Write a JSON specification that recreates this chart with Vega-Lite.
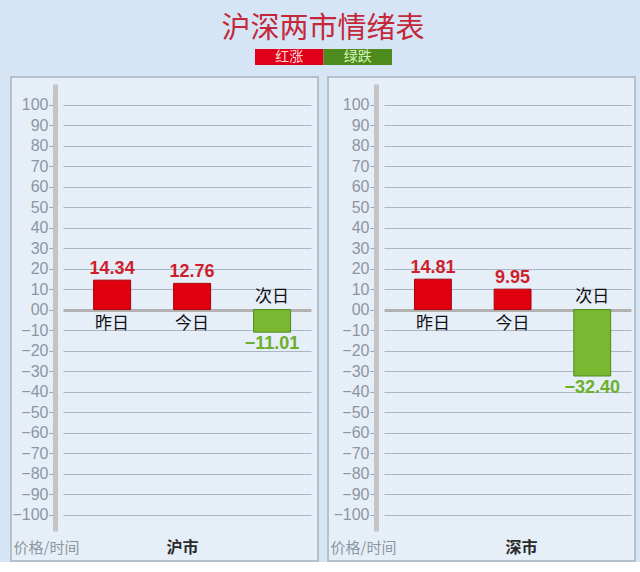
{
  "$schema": "https://vega.github.io/schema/vega-lite/v6.json",
  "background": "#d5e5f5",
  "padding": {"left": 10, "top": 15, "right": 8, "bottom": 0},
  "title": {
    "text": "沪深两市情绪表",
    "font": "Noto Sans CJK SC",
    "fontSize": 29,
    "fontWeight": "normal",
    "color": "#c4283a",
    "anchor": "middle",
    "offset": 5
  },
  "data": {
    "values": [
      {"market": "沪市", "day": "昨日", "value": 14.34},
      {"market": "沪市", "day": "今日", "value": 12.76},
      {"market": "沪市", "day": "次日", "value": -11.01},
      {"market": "深市", "day": "昨日", "value": 14.81},
      {"market": "深市", "day": "今日", "value": 9.95},
      {"market": "深市", "day": "次日", "value": -32.40}
    ]
  },
  "config": {"font": "Noto Sans CJK SC"},
  "spacing": 11,
  "center": true,
  "vconcat": [
    {
      "data": {"values": [{"k": "红涨"}, {"k": "绿跌"}]},
      "width": 137,
      "height": 16,
      "view": {"stroke": null},
      "encoding": {
        "x": {"field": "k", "type": "nominal", "sort": null, "axis": null,
              "scale": {"paddingInner": 0, "paddingOuter": 0}}
      },
      "layer": [
        {
          "mark": "bar",
          "encoding": {
            "color": {"condition": {"test": "datum.k === '红涨'", "value": "#e0001a"}, "value": "#4d8c1c"}
          }
        },
        {
          "mark": {"type": "text", "fontSize": 14, "baseline": "middle"},
          "encoding": {
            "text": {"field": "k"},
            "color": {"condition": {"test": "datum.k === '红涨'", "value": "#ffd6d6"}, "value": "#d4f2b8"}
          }
        }
      ]
    },
    {
      "spacing": 8,
      "hconcat": [
        {
          "width": 307,
          "height": 484,
          "view": {"fill": "#e6eef8", "stroke": "#b6c0cb", "strokeWidth": 2},
          "transform": [{"filter": "datum.market === '沪市'"}],
          "encoding": {
            "x": {
              "field": "day", "type": "nominal", "sort": null,
              "scale": {"type": "band", "domain": ["昨日", "今日", "次日"], "range": [52, 300],
                        "paddingInner": 0.5375, "paddingOuter": 0.319, "align": 0.6},
              "axis": {"orient": "bottom", "title": "沪市", "labels": false, "ticks": false, "domain": false, "grid": false,
                       "titleX": 171, "titleY": -14, "titleBaseline": "middle", "titleFontSize": 16,
                       "titleColor": "#2a2a2a", "titleFontWeight": "bold"}
            },
            "y": {
              "field": "value", "type": "quantitative",
              "scale": {"domain": [-108, 110], "range": [454, 7], "zero": false, "nice": false},
              "axis": {
                "orient": "left", "offset": -44,
                "values": [-100, -90, -80, -70, -60, -50, -40, -30, -20, -10, 0, 10, 20, 30, 40, 50, 60, 70, 80, 90, 100],
                "labelExpr": "datum.value === 0 ? '00' : datum.label",
                "labelFont": "Liberation Sans", "labelFontSize": 16, "labelColor": "#8c96a2", "labelPadding": 1,
                "tickSize": 6, "tickColor": "#9aa6b2",
                "domainColor": "#c4c4c4", "domainWidth": 5,
                "grid": true,
                "gridColor": {"condition": {"test": "datum.value === 0", "value": "#b2b2b2"}, "value": "#a8b6c6"},
                "gridWidth": {"condition": {"test": "datum.value === 0", "value": 3}, "value": 1},
                "title": "价格/时间", "titleAngle": 0, "titleX": -42, "titleY": 470,
                "titleAlign": "left", "titleBaseline": "middle", "titleFontSize": 15,
                "titleFontWeight": "normal", "titleColor": "#8c96a2"
              }
            }
          },
          "layer": [
            {
              "mark": {"type": "bar", "strokeWidth": 1},
              "encoding": {
                "y2": {"datum": 0},
                "color": {"condition": {"test": "datum.value > 0", "value": "#e1000f"}, "value": "#7bb832"},
                "stroke": {"condition": {"test": "datum.value > 0", "value": "#a8000a"}, "value": "#4f8a1c"}
              }
            },
            {
              "transform": [{"filter": "datum.value > 0"}],
              "mark": {"type": "text", "baseline": "bottom", "dy": -2, "font": "Liberation Sans", "fontSize": 18, "fontWeight": "bold", "color": "#cf1f2c"},
              "encoding": {"text": {"field": "value", "type": "quantitative", "format": ".2f"}}
            },
            {
              "transform": [{"filter": "datum.value < 0"}],
              "mark": {"type": "text", "baseline": "top", "dy": 3, "font": "Liberation Sans", "fontSize": 18, "fontWeight": "bold", "color": "#6caf2c"},
              "encoding": {"text": {"field": "value", "type": "quantitative", "format": ".2f"}}
            },
            {
              "transform": [{"filter": "datum.value > 0"}],
              "mark": {"type": "text", "baseline": "top", "dy": 6, "fontSize": 17, "color": "#111111"},
              "encoding": {"y": {"datum": 0, "type": "quantitative"}, "text": {"field": "day"}}
            },
            {
              "transform": [{"filter": "datum.value < 0"}],
              "mark": {"type": "text", "baseline": "bottom", "dy": -4, "fontSize": 17, "color": "#111111"},
              "encoding": {"y": {"datum": 0, "type": "quantitative"}, "text": {"field": "day"}}
            }
          ]
        },
        {
          "width": 307,
          "height": 484,
          "view": {"fill": "#e6eef8", "stroke": "#b6c0cb", "strokeWidth": 2},
          "transform": [{"filter": "datum.market === '深市'"}],
          "encoding": {
            "x": {
              "field": "day", "type": "nominal", "sort": null,
              "scale": {"type": "band", "domain": ["昨日", "今日", "次日"], "range": [56, 303],
                        "paddingInner": 0.5375, "paddingOuter": 0.319, "align": 0.6},
              "axis": {"orient": "bottom", "title": "深市", "labels": false, "ticks": false, "domain": false, "grid": false,
                       "titleX": 193, "titleY": -14, "titleBaseline": "middle", "titleFontSize": 16,
                       "titleColor": "#2a2a2a", "titleFontWeight": "bold"}
            },
            "y": {
              "field": "value", "type": "quantitative",
              "scale": {"domain": [-108, 110], "range": [454, 7], "zero": false, "nice": false},
              "axis": {
                "orient": "left", "offset": -48,
                "values": [-100, -90, -80, -70, -60, -50, -40, -30, -20, -10, 0, 10, 20, 30, 40, 50, 60, 70, 80, 90, 100],
                "labelExpr": "datum.value === 0 ? '00' : datum.label",
                "labelFont": "Liberation Sans", "labelFontSize": 16, "labelColor": "#8c96a2", "labelPadding": 1,
                "tickSize": 6, "tickColor": "#9aa6b2",
                "domainColor": "#c4c4c4", "domainWidth": 5,
                "grid": true,
                "gridColor": {"condition": {"test": "datum.value === 0", "value": "#b2b2b2"}, "value": "#a8b6c6"},
                "gridWidth": {"condition": {"test": "datum.value === 0", "value": 3}, "value": 1},
                "title": "价格/时间", "titleAngle": 0, "titleX": -46, "titleY": 470,
                "titleAlign": "left", "titleBaseline": "middle", "titleFontSize": 15,
                "titleFontWeight": "normal", "titleColor": "#8c96a2"
              }
            }
          },
          "layer": [
            {
              "mark": {"type": "bar", "strokeWidth": 1},
              "encoding": {
                "y2": {"datum": 0},
                "color": {"condition": {"test": "datum.value > 0", "value": "#e1000f"}, "value": "#7bb832"},
                "stroke": {"condition": {"test": "datum.value > 0", "value": "#a8000a"}, "value": "#4f8a1c"}
              }
            },
            {
              "transform": [{"filter": "datum.value > 0"}],
              "mark": {"type": "text", "baseline": "bottom", "dy": -2, "font": "Liberation Sans", "fontSize": 18, "fontWeight": "bold", "color": "#cf1f2c"},
              "encoding": {"text": {"field": "value", "type": "quantitative", "format": ".2f"}}
            },
            {
              "transform": [{"filter": "datum.value < 0"}],
              "mark": {"type": "text", "baseline": "top", "dy": 3, "font": "Liberation Sans", "fontSize": 18, "fontWeight": "bold", "color": "#6caf2c"},
              "encoding": {"text": {"field": "value", "type": "quantitative", "format": ".2f"}}
            },
            {
              "transform": [{"filter": "datum.value > 0"}],
              "mark": {"type": "text", "baseline": "top", "dy": 6, "fontSize": 17, "color": "#111111"},
              "encoding": {"y": {"datum": 0, "type": "quantitative"}, "text": {"field": "day"}}
            },
            {
              "transform": [{"filter": "datum.value < 0"}],
              "mark": {"type": "text", "baseline": "bottom", "dy": -4, "fontSize": 17, "color": "#111111"},
              "encoding": {"y": {"datum": 0, "type": "quantitative"}, "text": {"field": "day"}}
            }
          ]
        }
      ]
    }
  ]
}
